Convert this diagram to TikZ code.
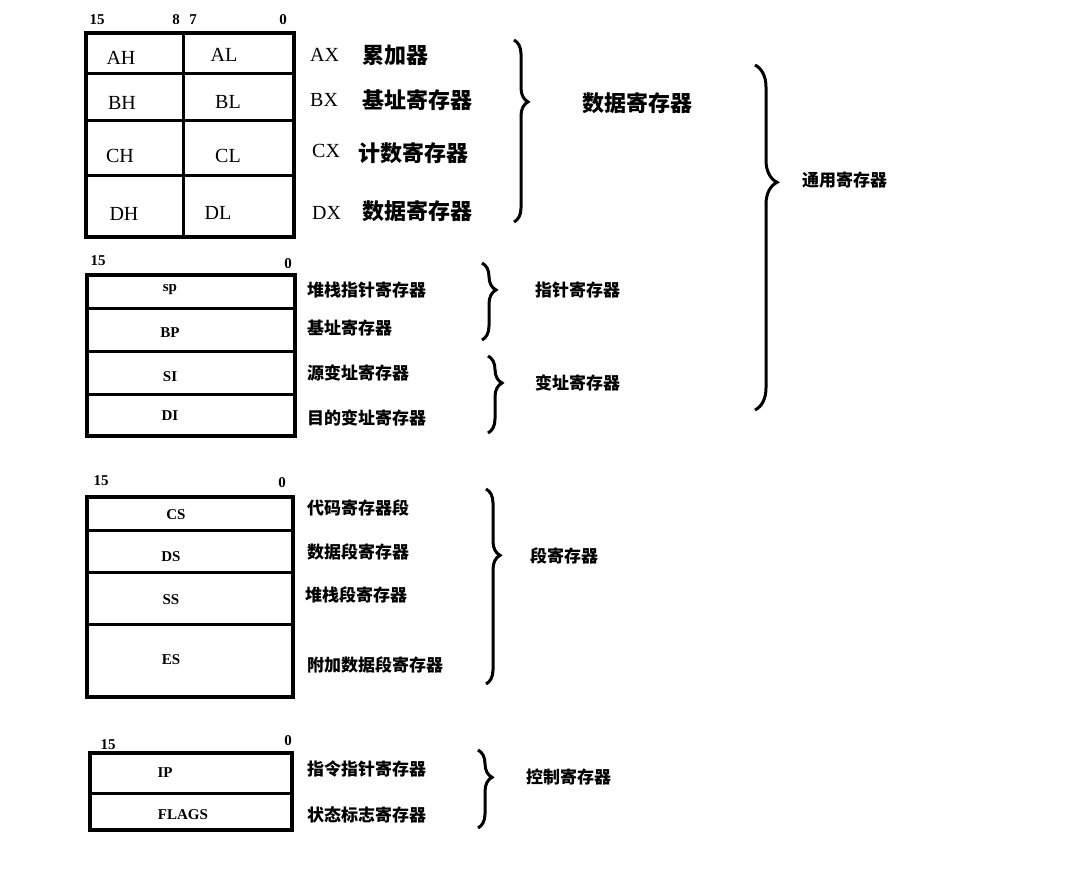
\documentclass[tikz,border=0pt]{standalone}
\usepackage{fontspec}
\setmainfont{Liberation Serif}
\newfontfamily\cjk{Noto Sans CJK SC}
\usetikzlibrary{decorations.pathreplacing}
\tikzset{
 reg/.style={draw=black,line width=3.2pt},
 sep/.style={line width=3pt},
 num/.style={font=\bfseries\fontsize{15}{15}\selectfont,inner sep=0pt},
 lab/.style={font=\fontsize{20}{20}\selectfont,inner sep=0pt},
 slab/.style={font=\bfseries\fontsize{15}{15}\selectfont,inner sep=0pt},
 big/.style={font=\cjk\bfseries\fontsize{22}{22}\selectfont,inner sep=0pt,anchor=west},
 sm/.style={font=\cjk\bfseries\fontsize{17}{17}\selectfont,inner sep=0pt,anchor=west},
 brc/.style={line width=3pt,decorate,decoration={brace,amplitude=14pt,aspect=#1}}
}
\begin{document}
\begin{tikzpicture}[x=1pt,y=-1pt]
\useasboundingbox[fill=white] (0,0) rectangle (1080,889);
% block 1
\draw[reg] (86,33) rectangle (294,237);
\draw[sep] (183,33) -- (183,237);
\foreach \yy in {73,120,175} \draw[sep] (86,\yy) -- (294,\yy);
\node[num] (n15a) at (97,20) {15};
\node[num] (n8a) at (176,20) {8};
\node[num] (n7a) at (193,20) {7};
\node[num] (n0a) at (283,20) {0};
\node[lab] (ah) at (121,58) {AH};
\node[lab] (al) at (224,55) {AL};
\node[lab] (bh) at (122,103) {BH};
\node[lab] (bl) at (228,102) {BL};
\node[lab] (ch) at (120,156) {CH};
\node[lab] (cl) at (228,156) {CL};
\node[lab] (dh) at (124,214) {DH};
\node[lab] (dl) at (218,213) {DL};
\node[lab,anchor=west] (ax) at (310,55) {AX};
\node[big] (axt) at (362,55) {累加器};
\node[lab,anchor=west] (bx) at (310,100) {BX};
\node[big] (bxt) at (362,100) {基址寄存器};
\node[lab,anchor=west] (cx) at (312,151) {CX};
\node[big] (cxt) at (358,153) {计数寄存器};
\node[lab,anchor=west] (dx) at (312,213) {DX};
\node[big] (dxt) at (362,211) {数据寄存器};
\draw[brc=0.34] (514,40) -- (514,222);
\node[big] (dreg) at (582,103) {数据寄存器};
\draw[brc=0.34,decoration={amplitude=22pt}] (755,65) -- (755,410);
\node[sm] (greg) at (802,180) {通用寄存器};
% block 2
\draw[reg] (87,275) rectangle (295,436);
\foreach \yy in {308,351,394} \draw[sep] (87,\yy) -- (295,\yy);
\node[num] (n15b) at (98,261) {15};
\node[num] (n0b) at (288,264) {0};
\node[slab] (sp) at (170,290) {sp};
\node[slab] (bp) at (170,333) {BP};
\node[slab] (si) at (170,377) {SI};
\node[slab] (di) at (170,416) {DI};
\node[sm] (spt) at (307,290) {堆栈指针寄存器};
\node[sm] (bpt) at (307,328) {基址寄存器};
\node[sm] (sit) at (307,373) {源变址寄存器};
\node[sm] (dit) at (307,418) {目的变址寄存器};
\draw[brc=0.35] (482,263) -- (482,340);
\node[sm] (preg) at (535,290) {指针寄存器};
\draw[brc=0.35] (488,356) -- (488,433);
\node[sm] (ireg) at (535,383) {变址寄存器};
% block 3
\draw[reg] (87,497) rectangle (293,697);
\foreach \yy in {530,572,624} \draw[sep] (87,\yy) -- (293,\yy);
\node[num] (n15c) at (101,481) {15};
\node[num] (n0c) at (282,483) {0};
\node[slab] (cs) at (176,515) {CS};
\node[slab] (ds) at (171,557) {DS};
\node[slab] (ss) at (171,600) {SS};
\node[slab] (es) at (171,660) {ES};
\node[sm] (cst) at (307,508) {代码寄存器段};
\node[sm] (dst) at (307,552) {数据段寄存器};
\node[sm] (sst) at (305,595) {堆栈段寄存器};
\node[sm] (est) at (307,665) {附加数据段寄存器};
\draw[brc=0.34] (486,489) -- (486,684);
\node[sm] (sreg) at (530,556) {段寄存器};
% block 4
\draw[reg] (90,753) rectangle (292,830);
\draw[sep] (90,793) -- (292,793);
\node[num] (n15d) at (108,745) {15};
\node[num] (n0d) at (288,741) {0};
\node[slab] (ip) at (165,773) {IP};
\node[slab] (fl) at (183,815) {FLAGS};
\node[sm] (ipt) at (307,769) {指令指针寄存器};
\node[sm] (flt) at (307,815) {状态标志寄存器};
\draw[brc=0.35] (478,750) -- (478,828);
\node[sm] (creg) at (526,777) {控制寄存器};
\end{tikzpicture}
\end{document}
